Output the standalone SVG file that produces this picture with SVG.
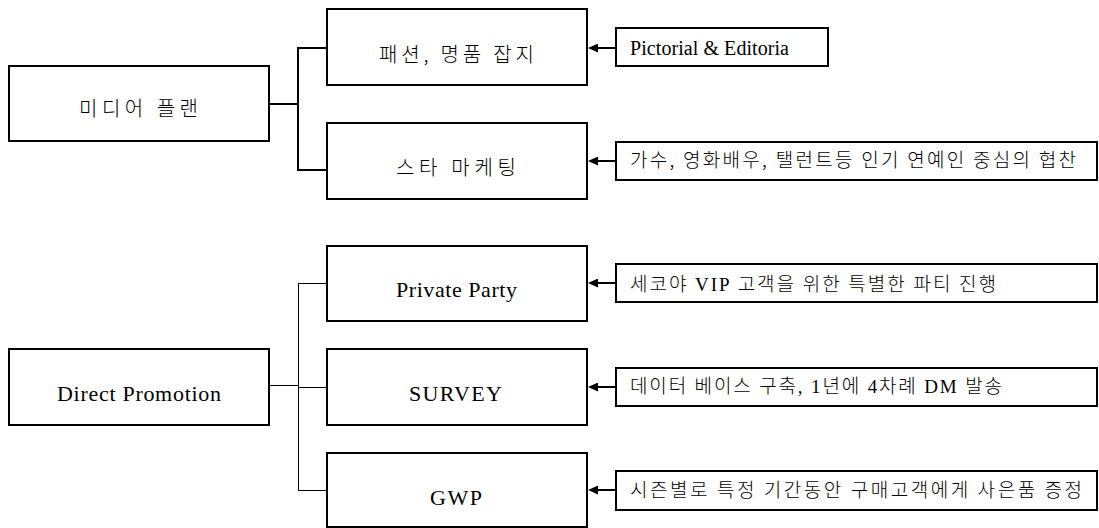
<svg xmlns="http://www.w3.org/2000/svg" width="1099" height="528" viewBox="0 0 1099 528">
<style>
.box{fill:#fff;stroke:#000;stroke-width:2}
.ko{font-family:"Noto Sans CJK KR",sans-serif;font-size:20px;fill:#000;font-weight:300}
.kod{font-family:"Liberation Serif","Noto Sans CJK KR",serif;font-size:19px;fill:#000;font-weight:300}
.kos{font-family:"Noto Sans CJK KR",sans-serif;font-size:19px;fill:#000;font-weight:300}
.en{font-family:"Liberation Serif",serif;font-size:22px;fill:#000}
.enp{font-family:"Liberation Serif",serif;font-size:20px;fill:#000}
.c2{fill:none;stroke:#000;stroke-width:2}
.c1{fill:none;stroke:#000;stroke-width:1}
.arr{fill:none;stroke:#000;stroke-width:2;marker-end:url(#ah)}
</style>
<defs>
<marker id="ah" markerUnits="userSpaceOnUse" markerWidth="10" markerHeight="9" refX="2" refY="4.5" orient="auto">
<path d="M0,0 L10,4.5 L0,9 z" fill="#000"/>
</marker>
</defs>
<g id="connectors">
<path class="c2" d="M269,104 H298 M298,47 V171 M297,48 H327 M297,170 H327"/>
<path class="c1" d="M269,385.5 H298.5 M298.5,283 V491 M298,283.5 H327 M298,387.5 H327 M298,490.5 H327"/>
<line class="arr" x1="616" y1="48" x2="596" y2="48"/>
<line class="arr" x1="616" y1="161" x2="596" y2="161"/>
<line class="arr" x1="616" y1="283" x2="596" y2="283"/>
<line class="arr" x1="616" y1="387" x2="596" y2="387"/>
<line class="arr" x1="616" y1="490" x2="596" y2="490"/>
</g>
<g id="media-plan">
<rect class="box" x="9" y="66" width="260" height="75"/>
<text class="ko" x="79" y="116" textLength="119" lengthAdjust="spacing">미디어 플랜</text>
</g>
<g id="fashion">
<rect class="box" x="327" y="9" width="260" height="76"/>
<text class="ko" x="379" y="61.5" textLength="155" lengthAdjust="spacing">패션, 명품 잡지</text>
</g>
<g id="star">
<rect class="box" x="327" y="123" width="260" height="76"/>
<text class="ko" x="396" y="175" textLength="120" lengthAdjust="spacing">스타 마케팅</text>
</g>
<g id="pictorial">
<rect class="box" x="616" y="28" width="212" height="38"/>
<text class="enp" x="630" y="55" textLength="159" lengthAdjust="spacing">Pictorial &amp; Editoria</text>
</g>
<g id="star-desc">
<rect class="box" x="616" y="142" width="481" height="38"/>
<text class="kos" x="630" y="166.5" textLength="446" lengthAdjust="spacing">가수, 영화배우, 탤런트등 인기 연예인 중심의 협찬</text>
</g>
<g id="direct-promotion">
<rect class="box" x="9" y="349" width="260" height="76"/>
<text class="en" x="57" y="401" textLength="164" lengthAdjust="spacing">Direct Promotion</text>
</g>
<g id="private-party">
<rect class="box" x="327" y="246" width="260" height="75"/>
<text class="en" x="396" y="297" textLength="121" lengthAdjust="spacing">Private Party</text>
</g>
<g id="survey">
<rect class="box" x="327" y="349" width="260" height="76"/>
<text class="en" x="409" y="401" textLength="93" lengthAdjust="spacing">SURVEY</text>
</g>
<g id="gwp">
<rect class="box" x="327" y="453" width="260" height="74"/>
<text class="en" x="430" y="505" textLength="52" lengthAdjust="spacing">GWP</text>
</g>
<g id="party-desc">
<rect class="box" x="616" y="264" width="481" height="38"/>
<text class="kod" x="630" y="290.5" textLength="366" lengthAdjust="spacing">세코야 VIP 고객을 위한 특별한 파티 진행</text>
</g>
<g id="survey-desc">
<rect class="box" x="616" y="368" width="481" height="38"/>
<text class="kod" x="630" y="393" textLength="372" lengthAdjust="spacing">데이터 베이스 구축, 1년에 4차례 DM 발송</text>
</g>
<g id="gwp-desc">
<rect class="box" x="616" y="471" width="481" height="39"/>
<text class="kos" x="630" y="496.5" textLength="452" lengthAdjust="spacing">시즌별로 특정 기간동안 구매고객에게 사은품 증정</text>
</g>
</svg>
